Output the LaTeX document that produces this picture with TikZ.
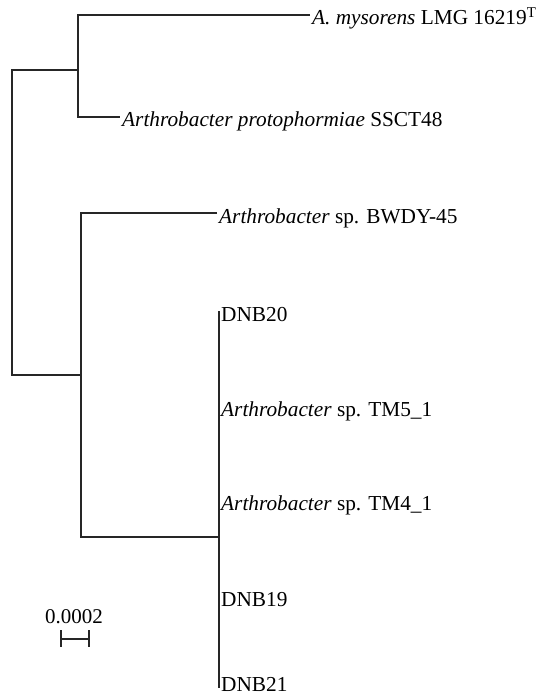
\documentclass[tikz,border=0pt]{standalone}
\usepackage{fontspec}
\setmainfont{Liberation Serif}
\tikzset{
  branch/.style={line width=1.3pt, black!85},
  leaf/.style={anchor=west, inner xsep=2pt, inner ysep=0pt, text height=20pt, text depth=0pt,
               font=\fontsize{21.3}{25}\selectfont}
}
\begin{document}
\begin{tikzpicture}[x=1pt, y=-1pt]
    % 画布大小 (与参考图一致, 1 px = 1 pt)
    \useasboundingbox (0, 0) rectangle (545, 698);

    % 1. 内部节点
    \coordinate (root) at (12, 70);
    \coordinate (clA)  at (78, 70);
    \coordinate (clB)  at (81, 375);
    \coordinate (clC)  at (219, 537);

    % 2. 叶节点标签
    \node[leaf] (mys)   at (310, 15)  {\textit{A. mysorens} LMG 16219\textsuperscript{T}};
    \node[leaf] (prot)  at (120, 117) {\textit{Arthrobacter protophormiae} SSCT48};
    \node[leaf] (bwdy)  at (217, 213) {\textit{Arthrobacter} sp. BWDY-45};
    \node[leaf] (dnb20) at (219, 311) {DNB20};
    \node[leaf] (tm5)   at (219, 406) {\textit{Arthrobacter} sp. TM5\_1};
    \node[leaf] (tm4)   at (219, 500) {\textit{Arthrobacter} sp. TM4\_1};
    \node[leaf] (dnb19) at (219, 596) {DNB19};
    \node[leaf] (dnb21) at (219, 681) {DNB21};

    % 3. 分支
    \draw[branch] (clA) -- (root) -- (root |- clB) -- (clB);
    \draw[branch] (mys.west) -| (clA) |- (prot.west);
    \draw[branch] (bwdy.west) -| (clB) |- (clC);
    \draw[branch] (dnb20.west) -- ([yshift=-7pt]dnb21.west);

    % 4. 标尺
    \node[font=\fontsize{21}{25}\selectfont, anchor=base, inner sep=0pt] (scl) at (74, 623) {0.0002};
    \draw[branch] (61, 630) -- (61, 647) (61, 639) -- (89, 639) (89, 630) -- (89, 647);
\end{tikzpicture}
\end{document}
